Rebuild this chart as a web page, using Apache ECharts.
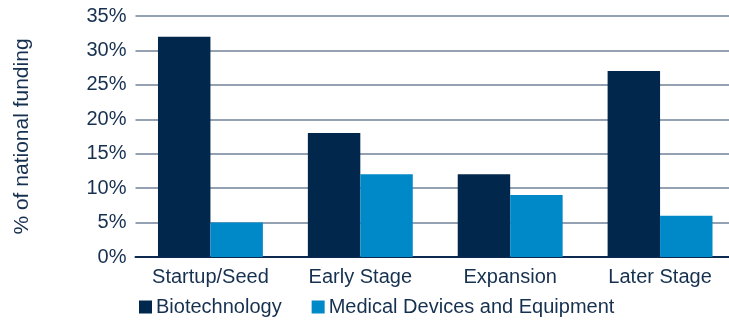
<!DOCTYPE html>
<html><head><meta charset="utf-8">
<script src="https://cdn.jsdelivr.net/npm/echarts@6/dist/echarts.min.js"></script>
<style>html,body{margin:0;padding:0;background:#fff;overflow:hidden}#c{width:736px;height:320px}</style>
</head><body><div id="c"></div>
<script>
var categories = ['Startup/Seed', 'Early Stage', 'Expansion', 'Later Stage'];
var biotech = [32, 18, 12, 27];
var medical = [5, 12, 9, 6];
var yTicks = [0, 5, 10, 15, 20, 25, 30, 35];

var textColor = '#16304f';
var font = 'Liberation Sans, Arial, sans-serif';
var chart = echarts.init(document.getElementById('c'), null, {renderer: 'canvas'});
chart.setOption({
  animation: false,
  grid: {left: 135.5, right: 1, top: 16, bottom: 63, containLabel: false},
  legend: {
    top: 292, left: 134,
    itemWidth: 13, itemHeight: 13, itemGap: 30,
    icon: 'rect',
    textStyle: {color: textColor, fontSize: 20, fontFamily: font, padding: [0, 0, 0, -1]},
    data: ['Biotechnology', 'Medical Devices and Equipment']
  },
  xAxis: {
    type: 'category', data: categories,
    axisLine: {show: true, lineStyle: {color: '#0c2a4f', width: 2}},
    axisTick: {show: false},
    axisLabel: {color: textColor, fontSize: 20, fontFamily: font, margin: 10, interval: 0}
  },
  yAxis: {
    type: 'value', min: 0, max: 35, interval: 5,
    name: '% of national funding', nameLocation: 'middle', nameGap: 103,
    nameTextStyle: {color: textColor, fontSize: 21, fontFamily: font},
    axisLine: {show: false}, axisTick: {show: false},
    axisLabel: {color: textColor, fontSize: 20, fontFamily: font, margin: 9,
      formatter: function (v) { return yTicks.indexOf(v) >= 0 ? v + '%' : ''; }},
    splitLine: {lineStyle: {color: '#6f8299', width: 1.5}}
  },
  series: [
    {name: 'Biotechnology', type: 'bar', data: biotech, barGap: '0%', barCategoryGap: '30%',
     itemStyle: {color: '#02274c'}},
    {name: 'Medical Devices and Equipment', type: 'bar', data: medical,
     itemStyle: {color: '#0089c9'}}
  ]
});
</script></body></html>
